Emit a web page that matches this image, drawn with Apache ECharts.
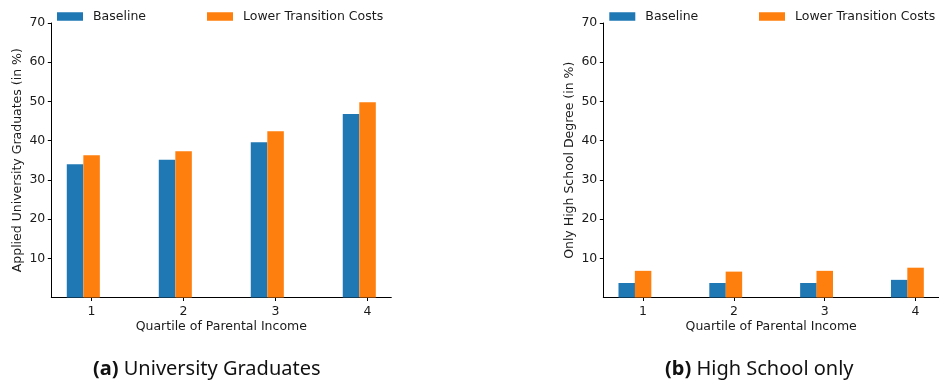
<!DOCTYPE html>
<html>
<head>
<meta charset="utf-8">
<script src="https://cdn.jsdelivr.net/npm/echarts@6/dist/echarts.min.js"></script>
<style>
  html, body { margin: 0; padding: 0; background: #fff; }
  #chart { width: 939px; height: 382px; }
</style>
</head>
<body>
<div id="chart"></div>
<script>
// Quartiles of parental income (x positions / tick labels)
const quartiles = [1, 2, 3, 4];
const yTicks = [10, 20, 30, 40, 50, 60, 70];

// (a) Applied university graduates, in %
const uniBaseline = [34.0, 35.1, 39.6, 46.8];
const uniLowerCosts = [36.3, 37.3, 42.4, 49.8];

// (b) Only high school degree, in %
const hsBaseline = [3.7, 3.7, 3.7, 4.5];
const hsLowerCosts = [6.8, 6.6, 6.8, 7.6];

const seriesNames = ['Baseline', 'Lower Transition Costs'];
const colors = ['#1f77b4', '#ff7f0e'];

// bar width in quartile units; the baseline bar sits one width to the left
const barUnits = 0.18;
const xMin = 0.562, xMax = 4.258;
const font = 'DejaVu Sans';
const fs = 12.5;
const ink = '#1a1a1a';

const chart = echarts.init(document.getElementById('chart'), null, { renderer: 'canvas' });

function xAxisCfg(gridIndex) {
  return {
    type: 'value', gridIndex, min: xMin, max: xMax,
    name: 'Quartile of Parental Income', nameLocation: 'middle', nameGap: 23,
    nameMoveOverlap: false,
    nameTextStyle: { fontFamily: font, fontSize: fs, color: ink },
    axisLine: { show: true, onZero: false, lineStyle: { color: '#000', width: 1 } },
    axisTick: { show: true, length: 3.5, lineStyle: { color: '#000', width: 1 }, customValues: quartiles },
    axisLabel: { show: true, margin: 8, fontFamily: font, fontSize: fs, color: ink, customValues: quartiles },
    splitLine: { show: false }
  };
}

function yAxisCfg(gridIndex, name) {
  return {
    type: 'value', gridIndex, min: 0, max: 70, interval: 10,
    name, nameLocation: 'middle', nameGap: 27,
    nameTextStyle: { fontFamily: font, fontSize: fs, color: ink },
    axisLine: { show: true, lineStyle: { color: '#000', width: 1 } },
    axisTick: { show: true, length: 3.5, lineStyle: { color: '#000', width: 1 }, customValues: yTicks },
    axisLabel: { show: true, margin: 6, fontFamily: font, fontSize: fs, color: ink, customValues: yTicks },
    splitLine: { show: false }
  };
}

function barSeries(name, values, idx, color, shift) {
  return {
    type: 'bar', name, xAxisIndex: idx, yAxisIndex: idx,
    data: quartiles.map((q, i) => [q + shift, values[i]]),
    barWidth: 16.5, barGap: '-100%',
    itemStyle: { color },
    emphasis: { disabled: true },
    animation: false
  };
}

function legendItem(name, left, color) {
  return {
    data: [name], left, top: 10, padding: 0,
    itemWidth: 26, itemHeight: 8.5, icon: 'rect',
    selectedMode: false,
    textStyle: { fontFamily: font, fontSize: fs, color: ink, padding: [0, 0, 0, 5] },
    itemStyle: { color }
  };
}

const option = {
  animation: false,
  grid: [
    { left: 51.3, top: 23, width: 340, height: 274.5 },
    { left: 603.3, top: 23, width: 340, height: 274.5 }
  ],
  xAxis: [xAxisCfg(0), xAxisCfg(1)],
  yAxis: [
    yAxisCfg(0, 'Applied University Graduates (in %)'),
    yAxisCfg(1, 'Only High School Degree (in %)')
  ],
  legend: [
    legendItem(seriesNames[0], 57, colors[0]),
    legendItem(seriesNames[1], 207, colors[1]),
    legendItem(seriesNames[0], 609.3, colors[0]),
    legendItem(seriesNames[1], 759, colors[1])
  ],
  series: [
    barSeries(seriesNames[0], uniBaseline, 0, colors[0], -barUnits),
    barSeries(seriesNames[1], uniLowerCosts, 0, colors[1], 0),
    barSeries(seriesNames[0], hsBaseline, 1, colors[0], -barUnits),
    barSeries(seriesNames[1], hsLowerCosts, 1, colors[1], 0)
  ],
  graphic: [
    {
      type: 'text', left: 93, top: 359,
      style: {
        text: '{b|(a)} University Graduates',
        rich: {
          b: { fontFamily: 'Noto Sans', fontSize: 20, fontWeight: 'bold', fill: '#111' }
        },
        fontFamily: 'Noto Sans', fontSize: 20, fill: '#111'
      }
    },
    {
      type: 'text', left: 665, top: 359,
      style: {
        text: '{b|(b)} High School only',
        rich: {
          b: { fontFamily: 'Noto Sans', fontSize: 20, fontWeight: 'bold', fill: '#111' }
        },
        fontFamily: 'Noto Sans', fontSize: 20, fill: '#111'
      }
    }
  ]
};

chart.setOption(option);
</script>
</body>
</html>
